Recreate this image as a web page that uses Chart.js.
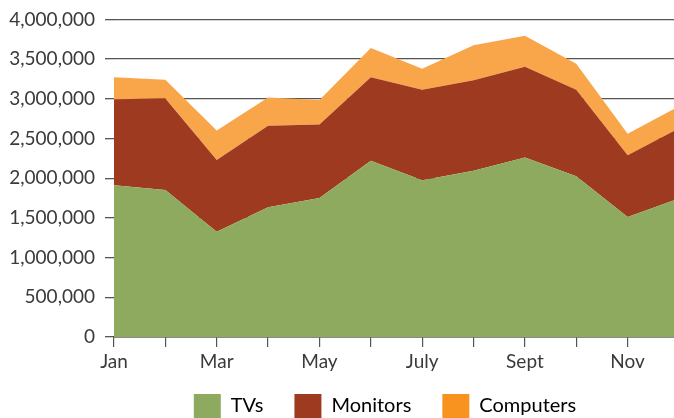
<!DOCTYPE html>
<html>
<head>
<meta charset="utf-8">
<script src="https://cdn.jsdelivr.net/npm/chart.js@4"></script>
<style>
  body { margin: 0; background: #fff; }
  #wrap { width: 674px; height: 418px; overflow: hidden; position: relative; }
  #box { width: 682px; height: 442px; margin-top: -2px; }
</style>
</head>
<body>
<div id="wrap"><div id="box"><canvas id="sales-chart"></canvas></div></div>
<script>
var months = ["Jan", "Feb", "Mar", "Apr", "May", "June", "July", "Aug", "Sept", "Oct", "Nov", "Dec"];
var tvs = [1910000, 1850000, 1325000, 1635000, 1750000, 2220000, 1975000, 2095000, 2260000, 2025000, 1510000, 1745000];
var monitors = [1085000, 1155000, 905000, 1025000, 925000, 1050000, 1140000, 1140000, 1145000, 1090000, 780000, 885000];
var computers = [275000, 235000, 370000, 355000, 310000, 370000, 265000, 440000, 390000, 325000, 270000, 275000];

var fillColors = ['#8eaa5f', '#9e3a1f', '#f9a64b'];
var legendColors = ['#8eaa5f', '#9e3a1f', '#f7931e'];
var textColor = '#3a3a3a';
var lineColor = '#555555';

Chart.defaults.font.family = 'Lato, "Open Sans", sans-serif';
Chart.defaults.color = textColor;

// nudge the legend over so it sits where the original one does
var legendShift = {
    id: 'legendShift',
    afterLayout: function(chart) {
        var lg = chart.legend;
        lg.left += 44;
        lg.right += 44;
        lg.top -= 12;
        lg.bottom -= 12;
    }
};

var ctx = document.getElementById('sales-chart').getContext('2d');
var chart = new Chart(ctx, {
    type: 'line',
    data: {
        labels: months,
        datasets: [
            { label: 'TVs', data: tvs, backgroundColor: fillColors[0], fill: 'origin' },
            { label: 'Monitors', data: monitors, backgroundColor: fillColors[1], fill: '-1' },
            { label: 'Computers', data: computers, backgroundColor: fillColors[2], fill: '-1' }
        ]
    },
    options: {
        responsive: true,
        maintainAspectRatio: false,
        animation: false,
        elements: {
            point: { radius: 0 },
            line: { borderWidth: 0, tension: 0 }
        },
        layout: { padding: { top: 0, left: 0, right: 0, bottom: 0 } },
        plugins: {
            tooltip: { enabled: false },
            legend: {
                position: 'bottom',
                labels: {
                    boxWidth: 27,
                    boxHeight: 24,
                    padding: 31,
                    font: { size: 20 },
                    color: textColor,
                    generateLabels: function(c) {
                        return c.data.datasets.map(function(ds, i) {
                            return {
                                text: ds.label,
                                fillStyle: legendColors[i],
                                strokeStyle: legendColors[i],
                                lineWidth: 0,
                                hidden: false,
                                datasetIndex: i
                            };
                        });
                    }
                }
            }
        },
        scales: {
            x: {
                offset: false,
                grid: {
                    display: true,
                    drawOnChartArea: false,
                    tickLength: 10,
                    color: lineColor,
                    lineWidth: 1.2
                },
                border: { display: true, color: '#444', width: 1.5 },
                ticks: {
                    autoSkip: false,
                    maxRotation: 0,
                    padding: 3,
                    font: { size: 19 },
                    callback: function(v, i) { return i % 2 === 0 ? months[i] : ''; }
                },
                afterFit: function(s) { s.height = 38; }
            },
            y: {
                stacked: true,
                min: 0,
                max: 4000000,
                grid: {
                    color: lineColor,
                    lineWidth: 1.3,
                    tickLength: 9
                },
                border: { display: false },
                ticks: {
                    stepSize: 500000,
                    padding: 10,
                    font: { size: 19 },
                    callback: function(v) { return v.toLocaleString('en-US'); }
                },
                afterFit: function(s) { s.width = 114; }
            }
        }
    },
    plugins: [legendShift]
});
</script>
</body>
</html>
